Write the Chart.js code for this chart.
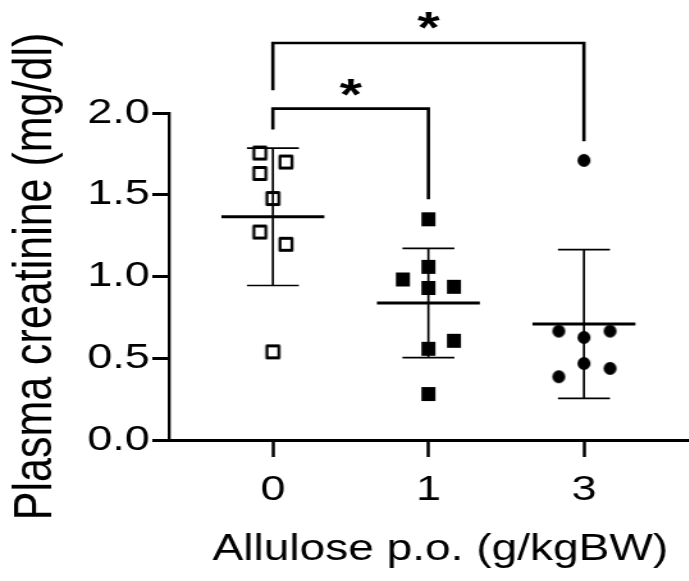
<!DOCTYPE html>
<html>
<head>
<meta charset="utf-8">
<script src="https://cdn.jsdelivr.net/npm/chart.js@4/dist/chart.umd.min.js"></script>
<style>
html,body{margin:0;padding:0;background:#fff;overflow:hidden;}
#wrap{width:689px;height:581px;overflow:hidden;position:relative;}
#c{display:block;}
</style>
</head>
<body>
<div id="wrap"><canvas id="c"></canvas></div>
<script>
// ---- data ----
const categories = ['0', '1', '3'];                 // Allulose dose (g/kgBW)
const dose0 = [1.755, 1.70, 1.63, 1.477, 1.272, 1.197, 0.539];
const dose1 = [1.35, 1.059, 0.982, 0.93, 0.937, 0.607, 0.558, 0.281];
const dose3 = [1.71, 0.666, 0.666, 0.627, 0.468, 0.438, 0.387];
const means = [1.365, 0.838, 0.709];
const sds   = [0.42, 0.334, 0.455];
const yTicks = [0, 0.5, 1.0, 1.5, 2.0];
// significance brackets (group index from/to, bracket level, leg ends, star level)
const sigFrom  = [0, 0];
const sigTo    = [1, 2];
const sigLevel = [2.027, 2.428];
const sigLeftEnd  = [1.899, 2.139];
const sigRightEnd = [1.473, 1.827];
const sigStarLevel = [2.155, 2.566];
const sigText = ['*', '*'];

// ---- layout / style ----
const jitter0 = [-0.084, 0.084, -0.084, 0, -0.084, 0.084, 0];
const jitter1 = [0, 0, -0.164, 0, 0.164, 0.164, 0, 0];
const jitter3 = [0, -0.162, 0.168, 0, 0, 0.168, -0.162];
const FONT = '"Liberation Sans", Arial, Helvetica, sans-serif';
const SX = 689 / 538;              // horizontal stretch of the original figure
const CW = 564, CH = 581;
const MEAN_HALF = 0.331, CAP_HALF = 0.167;

const cv = document.getElementById('c');
cv.width = CW; cv.height = CH;
cv.style.width = (CW * SX) + 'px';
cv.style.height = CH + 'px';

function marker(kind, size, border) {
  const w = Math.ceil((size + 4) / SX), h = Math.ceil(size + 4);
  const c = document.createElement('canvas');
  c.width = w; c.height = h;
  const g = c.getContext('2d');
  g.translate(w / 2, h / 2);
  g.scale(1 / SX, 1);
  g.fillStyle = '#000'; g.strokeStyle = '#000';
  if (kind === 'open') {
    const s = size - border;
    g.lineWidth = border; g.lineJoin = 'round';
    g.strokeRect(-s / 2, -s / 2, s, s);
  } else if (kind === 'square') {
    g.fillRect(-size / 2, -size / 2, size, size);
  } else {
    g.beginPath(); g.arc(0, 0, size / 2, 0, Math.PI * 2); g.fill();
  }
  return c;
}

const groups = [dose0, dose1, dose3];
const jitters = [jitter0, jitter1, jitter3];
const markers = [marker('open', 15, 3), marker('square', 14), marker('circle', 13)];

const datasets = [];
groups.forEach((vals, i) => {
  datasets.push({
    type: 'scatter',
    data: vals.map((v, k) => ({x: i + jitters[i][k], y: v})),
    pointStyle: markers[i], pointRadius: 7, pointHoverRadius: 7,
    order: 2
  });
  datasets.push({
    type: 'line',
    data: [{x: i - MEAN_HALF, y: means[i]}, {x: i + MEAN_HALF, y: means[i]}],
    borderColor: '#000', borderWidth: 3, pointRadius: 0, fill: false, tension: 0,
    borderCapStyle: 'butt', order: 1
  });
  const hi = means[i] + sds[i], lo = means[i] - sds[i];
  datasets.push({
    type: 'line',
    data: [
      {x: i - CAP_HALF, y: hi}, {x: i + CAP_HALF, y: hi}, {x: i, y: null},
      {x: i, y: hi}, {x: i, y: lo}, {x: i, y: null},
      {x: i - CAP_HALF, y: lo}, {x: i + CAP_HALF, y: lo}
    ],
    borderColor: '#000', borderWidth: 1.7, pointRadius: 0, fill: false, tension: 0,
    spanGaps: false, order: 1
  });
});
sigFrom.forEach((f, j) => {
  datasets.push({
    type: 'line',
    data: [
      {x: f, y: sigLeftEnd[j]}, {x: f, y: sigLevel[j]},
      {x: sigTo[j], y: sigLevel[j]}, {x: sigTo[j], y: sigRightEnd[j]}
    ],
    borderColor: '#000', borderWidth: 2.6, pointRadius: 0, fill: false, tension: 0,
    borderJoinStyle: 'miter', borderCapStyle: 'butt', clip: false, order: 1
  });
});

const starPlugin = {
  id: 'stars',
  afterDatasetsDraw(chart) {
    const {ctx, scales: {x, y}} = chart;
    ctx.save();
    ctx.fillStyle = '#000';
    ctx.font = 'bold 45px ' + FONT;
    ctx.textAlign = 'center';
    ctx.textBaseline = 'alphabetic';
    sigText.forEach((t, j) => {
      const m = ctx.measureText(t);
      const px = x.getPixelForValue((sigFrom[j] + sigTo[j]) / 2);
      const py = y.getPixelForValue(sigStarLevel[j]);
      const base = py - (m.actualBoundingBoxDescent - m.actualBoundingBoxAscent) / 2;
      ctx.fillText(t, px, base);
    });
    ctx.restore();
  }
};

new Chart(cv, {
  type: 'scatter',
  data: {datasets},
  options: {
    responsive: false,
    animation: false,
    devicePixelRatio: 1,
    events: [],
    layout: {padding: {top: 113, right: 0, bottom: 0, left: 0}},
    plugins: {legend: {display: false}, tooltip: {enabled: false}},
    scales: {
      x: {
        type: 'linear', position: 'bottom',
        min: -0.668, max: 2.822,
        afterBuildTicks: s => { s.ticks = categories.map((_, i) => ({value: i})); },
        ticks: {
          callback: v => categories[v] !== undefined ? categories[v] : '',
          font: {family: FONT, size: 35}, color: '#000', padding: 12,
          maxRotation: 0, minRotation: 0, autoSkip: false
        },
        grid: {drawOnChartArea: false, drawTicks: true, tickLength: 17, tickWidth: 2.5, tickColor: '#000'},
        border: {display: true, color: '#000', width: 3},
        title: {display: true, text: 'Allulose p.o. (g/kgBW)', font: {family: FONT, size: 36}, color: '#000', padding: {top: 0, bottom: 9}},
        afterFit: s => { s.height = 141; }
      },
      y: {
        type: 'linear', position: 'left',
        min: 0, max: 2,
        afterBuildTicks: s => { s.ticks = yTicks.map(v => ({value: v})); },
        ticks: {
          callback: v => Number(v).toFixed(1),
          font: {family: FONT, size: 35}, color: '#000', padding: 2
        },
        grid: {drawOnChartArea: false, drawTicks: true, tickLength: 13, tickWidth: 3, tickColor: '#000'},
        border: {display: true, color: '#000', width: 2.34},
        title: {display: true, text: 'Plasma creatinine (mg/dl)', font: {family: FONT, size: 43}, color: '#000', padding: {top: 2, bottom: 0}},
        afterFit: s => { s.width = 132; }
      }
    }
  },
  plugins: [starPlugin]
});
</script>
</body>
</html>
